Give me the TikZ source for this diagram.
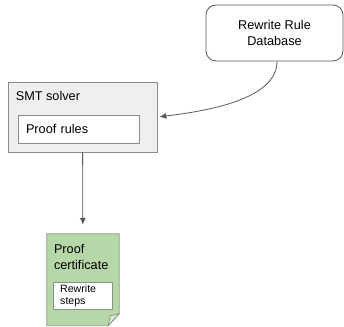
\documentclass[tikz,border=0pt]{standalone}
\usepackage{fontspec}
\setmainfont{Liberation Sans}
\usetikzlibrary{arrows.meta, positioning}

\definecolor{linegray}{HTML}{595959}
\definecolor{boxgray}{HTML}{8C8C8C}
\definecolor{solverfill}{HTML}{EFEFEF}
\definecolor{certfill}{HTML}{B6D7A8}
\definecolor{flapfill}{HTML}{D9EAD3}
\definecolor{certedge}{HTML}{8E9C88}

\begin{document}
\begin{tikzpicture}[
    x=1pt, y=1pt,
    font=\fontsize{12.7pt}{15.9pt}\selectfont,
    dbbox/.style={rectangle, rounded corners=10pt, draw=linegray, thick, fill=white, minimum width=137pt, minimum height=56pt, align=center},
    solverbox/.style={rectangle, draw=boxgray, thick, fill=solverfill, minimum width=149pt, minimum height=70pt},
    innerbox/.style={rectangle, draw=boxgray, thick, fill=white, anchor=north west, align=left},
    label/.style={inner sep=0pt, anchor=north west, align=left},
    arrow/.style={-{Latex[length=7pt, width=6pt]}, draw=linegray, thick}
]
    \useasboundingbox (0,0) rectangle (344,326);

    % Nodes
    \node[dbbox] (db) at (274.5,293) {Rewrite Rule\\Database};
    \node[solverbox] (smt) at (82.5,209) {};
    \node[label, below right=10pt and 8pt of smt.north west] (smtname) {SMT solver};
    \node[innerbox, minimum width=121pt, minimum height=28pt, text width=105pt, inner xsep=8pt,
          below right=33pt and 10pt of smt.north west] (rules) {Proof rules};

    % certificate (page with folded corner)
    \node[minimum width=72pt, minimum height=91.5pt] (cert) at (83,46.25) {};
    \fill[certfill, draw=certedge, thick] (cert.north west) -- (cert.north east)
        -- ([yshift=12pt]cert.south east) -- ([xshift=-11pt]cert.south east)
        -- (cert.south west) -- cycle;
    \filldraw[fill=flapfill, draw=certedge, thick] ([yshift=12pt]cert.south east)
        -- ([xshift=-9pt, yshift=10pt]cert.south east) -- ([xshift=-11pt]cert.south east) -- cycle;
    \node[label, below right=10pt and 7pt of cert.north west] (certname) {Proof\\certificate};
    \node[innerbox, font=\fontsize{10.6pt}{12pt}\selectfont, minimum width=59pt, minimum height=27pt,
          text width=45pt, inner xsep=7pt, inner ysep=2pt,
          below right=48pt and 6pt of cert.north west] (steps) {Rewrite\\steps};

    % Arrows
    \draw[arrow, shorten >=2pt] ([xshift=2.5pt]db.south) .. controls +(0,-38) and +(50,6) .. (smt.east);
    \draw[arrow, shorten >=9pt] (smt) -- (cert);
\end{tikzpicture}
\end{document}
